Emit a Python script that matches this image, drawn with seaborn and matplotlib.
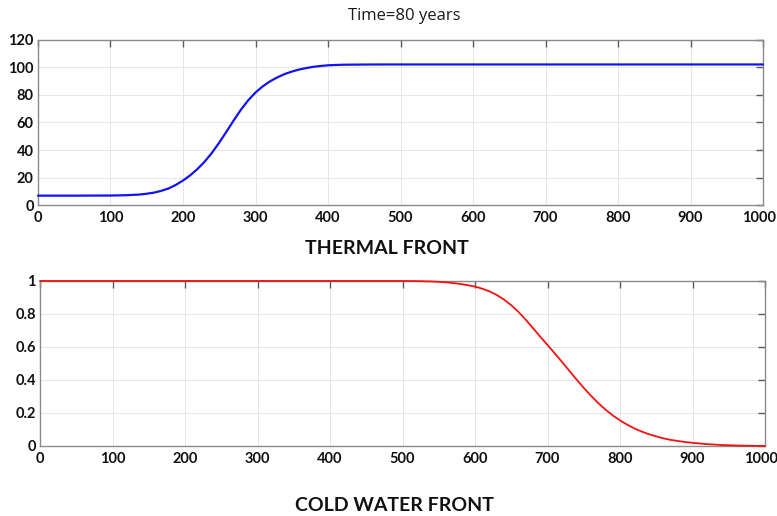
import matplotlib
matplotlib.use("Agg")
import matplotlib.pyplot as plt
import matplotlib.transforms as mtransforms
import seaborn as sns
import pandas as pd

# Temperature profile along the domain (thermal front)
thermal_x = [0, 50, 100, 120, 140, 150, 160, 170, 180, 190, 200, 210, 220, 230,
             240, 250, 260, 270, 280, 290, 300, 310, 320, 330, 340, 350, 360,
             370, 380, 390, 400, 420, 440, 470, 500, 600, 700, 800, 900, 1000]
thermal_y = [6.8, 6.8, 6.9, 7.1, 7.6, 8.2, 9.0, 10.3, 12.0, 14.6, 17.8, 21.6,
             26.2, 31.6, 38.0, 45.4, 53.4, 61.6, 69.4, 76.2, 81.8, 86.3, 89.9,
             92.8, 95.2, 97.0, 98.5, 99.6, 100.5, 101.1, 101.6, 102.0, 102.1,
             102.2, 102.2, 102.2, 102.2, 102.2, 102.2, 102.2]

# Normalised cold-water saturation (cold water front)
cold_x = [0, 100, 200, 300, 400, 500, 520, 540, 560, 580, 600, 610, 620, 630,
          640, 650, 660, 670, 680, 690, 700, 710, 720, 730, 740, 750, 760, 770,
          780, 790, 800, 810, 820, 830, 840, 850, 860, 870, 880, 890, 900, 920,
          940, 960, 980, 1000]
cold_y = [1.0, 1.0, 1.0, 1.0, 1.0, 1.0, 0.999, 0.997, 0.992, 0.982, 0.966,
          0.953, 0.937, 0.915, 0.887, 0.853, 0.812, 0.765, 0.714, 0.662, 0.612,
          0.561, 0.509, 0.456, 0.403, 0.352, 0.304, 0.26, 0.22, 0.185, 0.155,
          0.129, 0.106, 0.087, 0.071, 0.058, 0.046, 0.037, 0.03, 0.024, 0.019,
          0.011, 0.006, 0.003, 0.001, 0.0]

x_ticks = [0, 100, 200, 300, 400, 500, 600, 700, 800, 900, 1000]
thermal_ticks = [0, 20, 40, 60, 80, 100, 120]
cold_ticks = [0, 0.2, 0.4, 0.6, 0.8, 1]
cold_tick_labels = ["0", "0.2", "0.4", "0.6", "0.8", "1"]

sns.set_style("white")
plt.rcParams["font.family"] = ["Lato", "DejaVu Sans"]

fig = plt.figure(figsize=(7.77, 5.16), dpi=100)
ax1 = fig.add_axes([0.0489, 0.6027, 0.9331, 0.3198])
ax2 = fig.add_axes([0.0515, 0.1357, 0.9331, 0.3198])

thermal = pd.DataFrame({"x": thermal_x, "T": thermal_y})
cold = pd.DataFrame({"x": cold_x, "S": cold_y})

sns.lineplot(data=thermal, x="x", y="T", ax=ax1, color="#1212f2", linewidth=1.6)
sns.lineplot(data=cold, x="x", y="S", ax=ax2, color="#f21212", linewidth=1.3)
for ax in (ax1, ax2):
    for ln in ax.lines:
        ln.set_clip_on(False)
        ln.set_zorder(5)


def style_axes(ax, yticks, ylabels=None):
    ax.set_xlim(0, 1000)
    ax.set_xticks(x_ticks)
    ax.set_yticks(yticks)
    if ylabels is not None:
        ax.set_yticklabels(ylabels)
    ax.set_ylim(yticks[0], yticks[-1])
    ax.set_xlabel("")
    ax.set_ylabel("")
    ax.grid(True, color="#e6e6e6", linewidth=0.7)
    ax.set_axisbelow(True)
    for s in ax.spines.values():
        s.set_color("#8a8a8a")
        s.set_linewidth(1.0)
        s.set_visible(True)
    ax.tick_params(axis="both", direction="in", length=5, width=1.0,
                   color="#5a5a5a", top=True, right=True, labelsize=10.5,
                   labelcolor="#111111")
    ax.tick_params(axis="x", pad=4)
    ax.tick_params(axis="y", pad=3)
    for lab in ax.get_xticklabels() + ax.get_yticklabels():
        lab.set_fontweight("bold")
    # pull the rightmost label slightly inward so it stays on the canvas
    last = ax.get_xticklabels()[-1]
    last.set_transform(last.get_transform() +
                       mtransforms.ScaledTranslation(-4 / 100, 0, fig.dpi_scale_trans))


style_axes(ax1, thermal_ticks)
style_axes(ax2, cold_ticks, cold_tick_labels)

fig.text(0.52, 0.969, "Time=80 years", ha="center", va="center", fontsize=12,
         family=["Open Sans", "DejaVu Sans"], color="#1a1a1a")
fig.text(0.498, 0.519, "THERMAL FRONT", ha="center", va="center", fontsize=14,
         fontweight="bold", color="#111111")
fig.text(0.508, 0.021, "COLD WATER FRONT", ha="center", va="center", fontsize=14,
         fontweight="bold", color="#111111")

fig.savefig("out.png", dpi=100)
